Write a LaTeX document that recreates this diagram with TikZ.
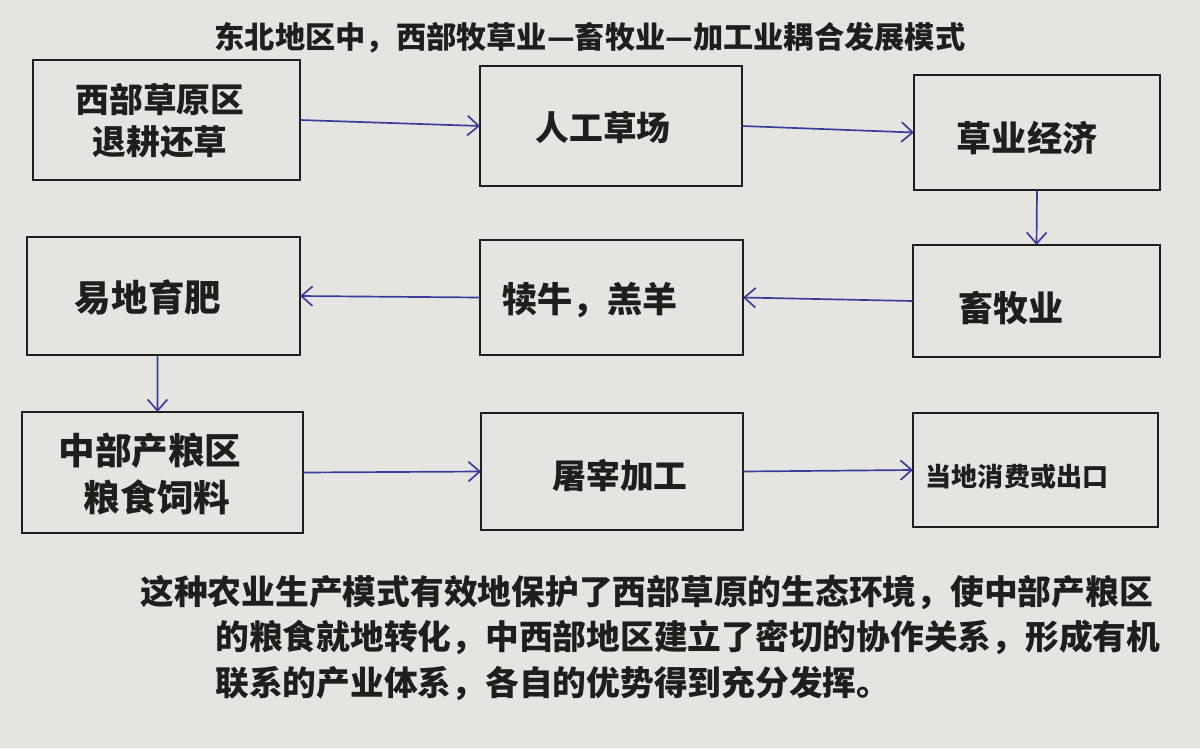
\documentclass[tikz,border=0pt]{standalone}
\usepackage{fontspec}
\usetikzlibrary{arrows.meta}
\newfontfamily\cjk{Noto Sans CJK SC}
\definecolor{paper}{HTML}{E6E4E0}
\definecolor{ink}{HTML}{1E1E1E}
\definecolor{pen}{HTML}{3A3C9C}
\tikzset{
  box/.style={draw=ink, line width=2pt, rectangle, inner sep=0pt, outer sep=0pt},
  lbl/.style={text=ink, inner sep=0pt, font=\cjk\bfseries\fontsize{24}{28}\selectfont},
  arr/.style={draw=pen, line width=1.2pt, -{Straight Barb[length=8pt,width=14pt,line width=1.2pt]}},
}
\begin{document}
\begin{tikzpicture}[x=0.025cm,y=-0.025cm]
\fill[paper] (0,0) rectangle (1200,748);
\useasboundingbox (0,0) rectangle (1200,748);

% title
\node[lbl, font=\cjk\bfseries\fontsize{21.5}{26}\selectfont] (title) at (590,38) {东北地区中，西部牧草业—畜牧业—加工业耦合发展模式};

% boxes
\node[box, minimum width=6.675cm, minimum height=3.0cm] (b1) at (166.5,120) {};
\node[box, minimum width=6.55cm, minimum height=3.0cm] (b2) at (611,126) {};
\node[box, minimum width=6.15cm, minimum height=2.875cm] (b3) at (1037,132.5) {};
\node[box, minimum width=6.825cm, minimum height=2.95cm] (b4) at (163.5,296) {};
\node[box, minimum width=6.575cm, minimum height=2.875cm] (b5) at (611.5,297.5) {};
\node[box, minimum width=6.175cm, minimum height=2.8cm] (b6) at (1036.5,301) {};
\node[box, minimum width=7.025cm, minimum height=3.025cm] (b7) at (162.5,472.5) {};
\node[box, minimum width=6.55cm, minimum height=2.925cm] (b8) at (612,471.5) {};
\node[box, minimum width=6.125cm, minimum height=2.85cm] (b9) at (1035.5,470) {};

% box texts
\node[lbl] (t1a) at (160,100) {西部草原区};
\node[lbl] (t1b) at (160,142) {退耕还草};
\node[lbl] (t2) at (603,128) {人工草场};
\node[lbl, font=\cjk\bfseries\fontsize{25}{28}\selectfont] (t3) at (1027,138) {草业经济};
\node[lbl, font=\cjk\bfseries\fontsize{26}{28}\selectfont] (t4) at (148,297) {易地育肥};
\node[lbl, font=\cjk\bfseries\fontsize{25}{28}\selectfont] (t5) at (590,300) {犊牛，羔羊};
\node[lbl, font=\cjk\bfseries\fontsize{25}{28}\selectfont] (t6) at (1011,308) {畜牧业};
\node[lbl, font=\cjk\bfseries\fontsize{26}{28}\selectfont] (t7a) at (150,451) {中部产粮区};
\node[lbl, font=\cjk\bfseries\fontsize{26}{28}\selectfont] (t7b) at (157,497) {粮食饲料};
\node[lbl] (t8) at (620,475) {屠宰加工};
\node[lbl, font=\cjk\bfseries\fontsize{18.5}{22}\selectfont] (t9) at (1017,477) {当地消费或出口};

% connectors
\draw[arr] (b1.east) -- (b2.west);
\draw[arr] (b2.east) -- (b3.west);
\draw[arr] (b3.south) -- (b6.north);
\draw[arr] (b6.west) -- (b5.east);
\draw[arr] (b5.west) -- (b4.east);
\draw[arr] ([xshift=-0.15cm]b4.south) -- ([xshift=-0.125cm]b7.north);
\draw[arr] (b7.east) -- (b8.west);
\draw[arr] (b8.east) -- (b9.west);

% bottom text
\node[lbl, anchor=west] (p1) at (140,592) {这种农业生产模式有效地保护了西部草原的生态环境，使中部产粮区};
\node[lbl, anchor=west] (p2) at (215,637) {的粮食就地转化，中西部地区建立了密切的协作关系，形成有机};
\node[lbl, anchor=west] (p3) at (215,683) {联系的产业体系，各自的优势得到充分发挥。};
\end{tikzpicture}
\end{document}
